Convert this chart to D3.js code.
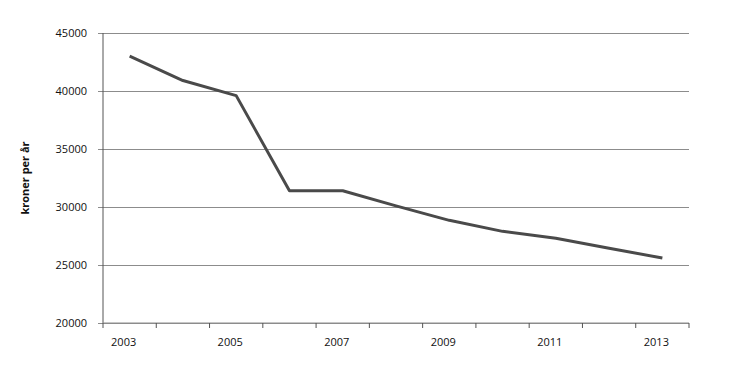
<!DOCTYPE html>
<html>
<head>
<meta charset="utf-8">
<script src="https://cdn.jsdelivr.net/npm/d3@7"></script>
<style>
    body { margin: 0; background: #fff; }
    text { font-family: "Open Sans", sans-serif; fill: #111; }
</style>
</head>
<body>
<svg id="chart" width="730" height="367"></svg>
<script>
// Values
const years = ["2003", "2004", "2005", "2006", "2007", "2008", "2009", "2010", "2011", "2012", "2013"];
const values = [43000, 40900, 39600, 31400, 31400, 30100, 28850, 27900, 27300, 26450, 25600];
const yTicks = [20000, 25000, 30000, 35000, 40000, 45000];
const labelledYears = ["2003", "2005", "2007", "2009", "2011", "2013"];
const yTitle = "kroner per år";

let svg = d3.select("#chart");
let margin = {top: 33, right: 41, bottom: 44, left: 103};
let width = svg.attr("width") - margin.left - margin.right;
let height = svg.attr("height") - margin.top - margin.bottom;

let scale = {
    x: d3.scaleBand().domain(years).range([0, width]),
    y: d3.scaleLinear().domain([20000, 45000]).range([height, 0])
};

let group = svg.append("g")
    .attr("transform", `translate(${margin.left}, ${margin.top})`);

// Horizontal gridlines + y ticks
let yAxis = d3.axisLeft(scale.y)
    .tickValues(yTicks)
    .tickSize(-width)
    .tickPadding(16)
    .tickFormat(d3.format("d"));

let yg = group.append("g").call(yAxis);
yg.select(".domain").remove();
yg.selectAll(".tick line")
    .attr("x1", -5)
    .attr("stroke", "#8c8c8c")
    .attr("stroke-width", 1);
yg.selectAll(".tick text")
    .style("font-size", "11px")
    .attr("fill", "#111");

// Vertical axis line
group.append("line")
    .attr("x1", 0).attr("x2", 0)
    .attr("y1", 0).attr("y2", height)
    .attr("stroke", "#555");

// x axis with tick marks between the categories
let xg = group.append("g")
    .attr("transform", `translate(0, ${height})`);

xg.append("line")
    .attr("x1", 0).attr("x2", width)
    .attr("stroke", "#8c8c8c");

let boundaries = years.map(y => scale.x(y)).concat([width]);
xg.selectAll(".xtick")
    .data(boundaries)
    .enter()
    .append("line")
    .attr("class", "xtick")
    .attr("x1", d => d).attr("x2", d => d)
    .attr("y1", 0).attr("y2", 5)
    .attr("stroke", "#555");

xg.selectAll(".xlabel")
    .data(labelledYears)
    .enter()
    .append("text")
    .attr("class", "xlabel")
    .attr("x", d => scale.x(d) + scale.x.bandwidth() / 2 - 6)
    .attr("y", 23)
    .attr("text-anchor", "middle")
    .style("font-size", "11px")
    .text(d => d);

// Data line
let line = d3.line()
    .x((d, i) => scale.x(years[i]) + scale.x.bandwidth() / 2)
    .y(d => scale.y(d));

group.append("path")
    .datum(values)
    .attr("fill", "none")
    .attr("stroke", "#4a4a4a")
    .attr("stroke-width", 3)
    .attr("stroke-linejoin", "round")
    .attr("d", line);

// y axis title
svg.append("text")
    .attr("transform", `translate(29, ${margin.top + height / 2}) rotate(-90)`)
    .attr("text-anchor", "middle")
    .style("font-size", "11px")
    .style("font-weight", "bold")
    .text(yTitle);
</script>
</body>
</html>
